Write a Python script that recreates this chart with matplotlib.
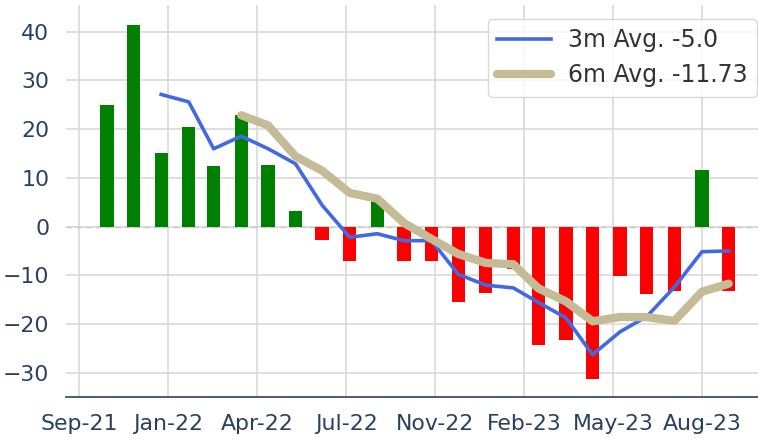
import numpy as np
import pandas as pd
import matplotlib
matplotlib.use("Agg")
import matplotlib.pyplot as plt
import matplotlib.dates as mdates

# monthly values, Oct-21 .. Sep-23 (month ends)
months = pd.date_range("2021-10-31", "2023-09-30", freq="ME")
values = [25.0, 41.3, 15.1, 20.4, 12.4, 22.9, 12.7, 3.1, -2.7, -7.0, 5.3, -7.0,
          -7.0, -15.4, -13.7, -8.7, -24.3, -23.2, -31.4, -10.2, -13.8, -13.3, 11.6, -13.3]

# 3 month average (starts at 3rd month)
avg3 = [27.13, 25.60, 15.97, 18.57, 16.00, 12.90, 4.37, -2.20, -1.47, -2.90, -2.90,
        -9.80, -12.03, -12.60, -15.57, -18.73, -26.30, -21.60, -18.47, -12.43, -5.17, -5.0]
# 6 month average (starts at 6th month)
avg6 = [22.85, 20.80, 14.43, 11.47, 6.90, 5.72, 0.73, -2.55, -5.63, -7.47, -7.75,
        -12.68, -15.38, -19.45, -18.58, -18.60, -19.37, -13.38, -11.73]

tick_start = "2021-09-30"
tick_end = "2023-08-31"

TXT = "#2a3f5f"

fig = plt.figure(figsize=(7.58, 4.43), dpi=100)
ax = fig.add_axes([66 / 758, 1 - 397 / 443, 1 - 66 / 758, (397 - 5) / 443])

colors = ["green" if v >= 0 else "red" for v in values]
ax.axhline(0, color="#c8c8c8", linestyle=(0, (4, 3)), linewidth=1.0, zorder=1)
ax.bar(months, values, width=15, color=colors, zorder=2)

ax.plot(months[2:], avg3, color="#4169e1", linewidth=2.6, zorder=3,
        label=f"3m Avg. {avg3[-1]}")
ax.plot(months[5:], avg6, color="#c4bc96", linewidth=6, zorder=4,
        solid_capstyle="round", label=f"6m Avg. {avg6[-1]}")

ax.set_ylim(-35, 45.5)
ax.set_xlim(pd.Timestamp("2021-09-15"), pd.Timestamp("2023-11-02"))
ax.set_yticks([-30, -20, -10, 0, 10, 20, 30, 40])
ax.set_xticks(pd.date_range(tick_start, tick_end, periods=8))
ax.xaxis.set_major_formatter(mdates.DateFormatter("%b-%y"))

ax.grid(True, color="#d6d6d6", linewidth=1.1, zorder=0)
ax.set_axisbelow(True)
for s in ["left", "right", "top"]:
    ax.spines[s].set_visible(False)
ax.spines["bottom"].set_color(TXT)
ax.spines["bottom"].set_linewidth(1.2)
ax.tick_params(axis="both", length=0, labelsize=15.8, labelcolor=TXT)
ax.tick_params(axis="x", pad=12)
ax.tick_params(axis="y", pad=12)

leg = ax.legend(loc="upper right", bbox_to_anchor=(757 / 758, 1 - 19 / 443),
                bbox_transform=fig.transFigure, borderaxespad=0, fontsize=17,
                handlelength=2.3, handletextpad=0.7, labelspacing=0.45,
                borderpad=0.4, framealpha=0.8, edgecolor="#d0d0d0")
for t in leg.get_texts():
    t.set_color("#333333")

fig.savefig("out.png", dpi=100)
